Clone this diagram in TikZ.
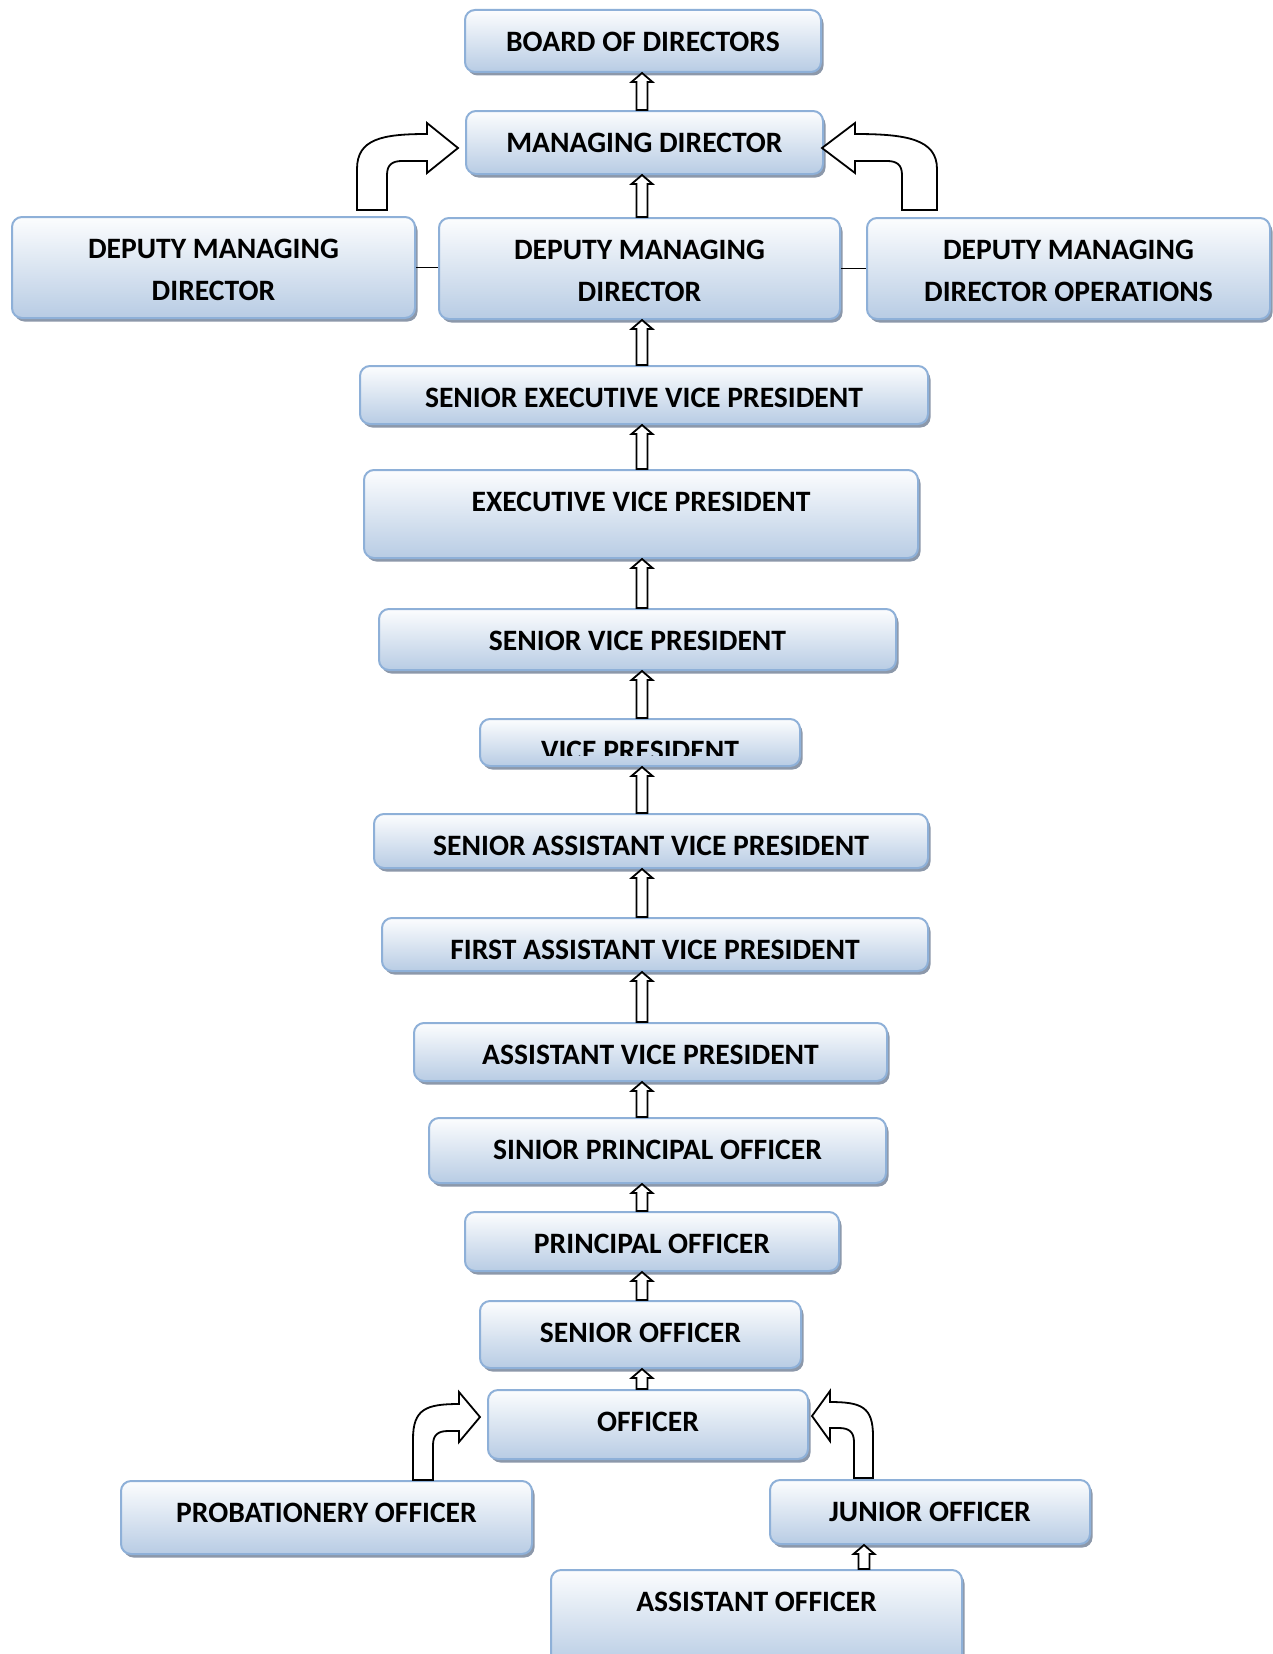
\documentclass[tikz,border=0pt]{standalone}
\usepackage{fontspec}
\setmainfont{Carlito}
\usetikzlibrary{shadows,calc}
\definecolor{boxedge}{RGB}{142,176,216}
\definecolor{boxbot}{RGB}{184,204,228}
\definecolor{boxtop}{RGB}{252,253,254}
\definecolor{shadowc}{RGB}{140,152,170}
\tikzset{
  orgbox/.style={draw=boxedge, line width=2pt, rounded corners=10pt,
    top color=boxtop, bottom color=boxbot, inner sep=0pt,
    drop shadow={shadow xshift=2.5pt, shadow yshift=-3.5pt, fill=shadowc, opacity=1}},
  lbl/.style={font=\bfseries\fontsize{29.6}{42}\selectfont, align=center, inner sep=0pt, anchor=north},
  arrowline/.style={draw=black, line width=1.8pt, fill=white, line join=miter},
  linkline/.style={draw=black, line width=1.5pt}
}
% box: name, left, top, right, bottom (pixels)
\newcommand{\obox}[5]{%
  \node[orgbox, anchor=north west, minimum width={#4pt-#2pt}, minimum height={#5pt-#3pt}] (#1) at (#2,#3) {};}
\newcommand{\otext}[3]{%
  \node[lbl] (#1) at ($(#2.north)+(0,23)$) {#3};}
% straight block arrow: x, lower node, upper node
\newcommand{\blockup}[3]{%
  \path[arrowline] let \p1=(#2.north), \p2=(#3.south) in
   (#1pt-5.5pt,\y1) -- (#1pt-5.5pt,\y2-9pt) -- (#1pt-10.5pt,\y2-9pt) -- (#1pt,\y2)
   -- (#1pt+10.5pt,\y2-9pt) -- (#1pt+5.5pt,\y2-9pt) -- (#1pt+5.5pt,\y1) -- cycle;}
% bent block arrow: tipx, tipy, xscale, head length, band top, band inner, stem inner, stem outer, bottom
\newcommand{\bentarr}[9]{%
  \begin{scope}[shift={(#1,#2)}, xscale=#3]
  \path[arrowline] (-#8,#9) -- (-#8,#6+8)
    .. controls (-#8,-#5+5) and ({-(#8+#4)/2-10},-#5) .. (-#4,-#5)
    -- (-#4,-25) -- (0,0) -- (-#4,25) -- (-#4,#6) -- (-#7+15,#6)
    .. controls (-#7+5,#6) and (-#7,#6+4) .. (-#7,#6+14) -- (-#7,#9) -- cycle;
  \end{scope}}
\begin{document}
\begin{tikzpicture}[x=1pt,y=-1pt]
\useasboundingbox (0,0) rectangle (1272,1654);
\fill[white] (0,0) rectangle (1272,1654);
% boxes
\obox{b1}{464}{9}{820}{71}
\obox{b2}{465}{110}{822}{173}
\obox{b3}{11}{216}{414}{317}
\obox{b4}{438}{217}{839}{318}
\obox{b5}{866}{217}{1269}{318}
\obox{b6}{359}{365}{927}{423}
\obox{b7}{363}{469}{917}{557}
\obox{b8}{378}{608}{895}{669}
\obox{b9}{479}{718}{799}{765}
\obox{b10}{373}{813}{927}{867}
\obox{b11}{381}{917}{927}{970}
\obox{b12}{413}{1022}{886}{1080}
\obox{b13}{428}{1117}{885}{1182}
\obox{b14}{464}{1211}{838}{1270}
\obox{b15}{479}{1300}{800}{1367}
\obox{b16}{487}{1389}{807}{1458}
\obox{b17}{120}{1480}{531}{1553}
\obox{b18}{769}{1479}{1089}{1543}
\obox{b19}{550}{1569}{961}{1665}
% texts
\otext{t1}{b1}{BOARD OF DIRECTORS}
\otext{t2}{b2}{MANAGING DIRECTOR}
\otext{t3}{b3}{DEPUTY MANAGING\\DIRECTOR}
\otext{t4}{b4}{DEPUTY MANAGING\\DIRECTOR}
\otext{t5}{b5}{DEPUTY MANAGING\\DIRECTOR OPERATIONS}
\otext{t6}{b6}{SENIOR EXECUTIVE VICE PRESIDENT}
\otext{t7}{b7}{EXECUTIVE VICE PRESIDENT}
\otext{t8}{b8}{SENIOR VICE PRESIDENT}
\begin{scope}
\clip (479,718) rectangle (799,755);
\otext{t9}{b9}{VICE PRESIDENT}
\end{scope}
\otext{t10}{b10}{SENIOR ASSISTANT VICE PRESIDENT}
\otext{t11}{b11}{FIRST ASSISTANT VICE PRESIDENT}
\otext{t12}{b12}{ASSISTANT VICE PRESIDENT}
\otext{t13}{b13}{SINIOR PRINCIPAL OFFICER}
\otext{t14}{b14}{PRINCIPAL OFFICER}
\otext{t15}{b15}{SENIOR OFFICER}
\otext{t16}{b16}{OFFICER}
\otext{t17}{b17}{PROBATIONERY OFFICER}
\otext{t18}{b18}{JUNIOR OFFICER}
\otext{t19}{b19}{ASSISTANT OFFICER}
% side links
\draw[linkline] (b3.east) -- (b3.east -| b4.west);
\draw[linkline] (b4.east) -- (b4.east -| b5.west);
% straight arrows
\blockup{642}{b2}{b1}
\blockup{642}{b4}{b2}
\blockup{642}{b6}{b4}
\blockup{642}{b7}{b6}
\blockup{642}{b8}{b7}
\blockup{642}{b9}{b8}
\blockup{642}{b10}{b9}
\blockup{642}{b11}{b10}
\blockup{642}{b12}{b11}
\blockup{642}{b13}{b12}
\blockup{642}{b14}{b13}
\blockup{642}{b15}{b14}
\blockup{642}{b16}{b15}
\blockup{864}{b19}{b18}
% bent arrows
\bentarr{458}{148}{1}{31}{14}{13}{71}{101}{62}
\bentarr{822}{148}{-1}{33}{14}{13}{80}{115}{62}
\bentarr{480}{1417}{1}{21}{13}{14}{47}{67}{63}
\bentarr{812}{1416}{-1}{18}{14}{12}{42}{61}{62}
\end{tikzpicture}
\end{document}
